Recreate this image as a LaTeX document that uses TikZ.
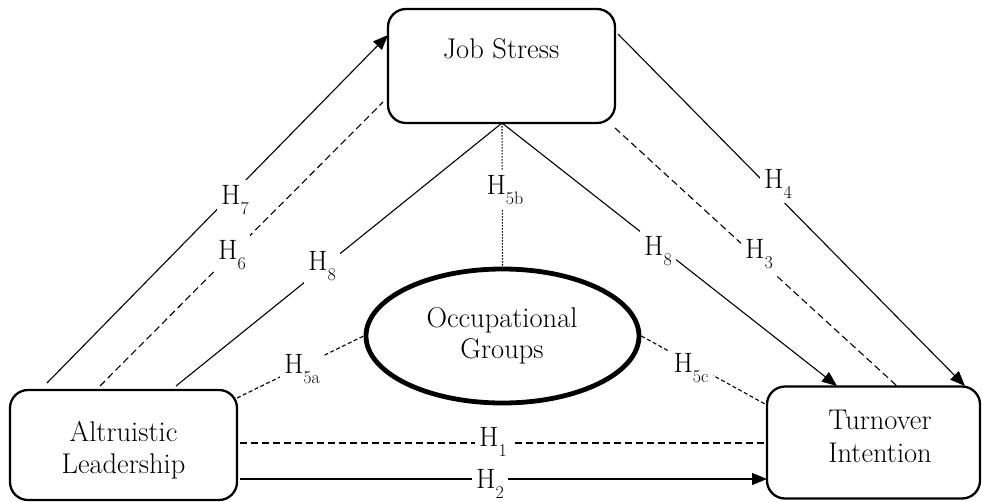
\documentclass[tikz,border=0pt]{standalone}
\usetikzlibrary{arrows.meta,shapes.geometric}
\newcommand{\hyp}[1]{H\raisebox{-0.38em}{\fontsize{18}{18}\selectfont #1}}
\begin{document}
\begin{tikzpicture}[x=1pt,y=-1pt,
  box/.style={draw, line width=2.3pt, rounded corners=18pt, inner sep=0pt},
  oval/.style={draw, ellipse, line width=4.8pt, inner sep=0pt},
  txt/.style={inner sep=0pt, anchor=base, font=\fontsize{28.5}{32}\selectfont},
  lbl/.style={fill=white, inner sep=4.5pt, font=\fontsize{28}{28}\selectfont},
  conn/.style={line width=1.1pt},
  arr/.style={conn, -{Triangle[length=15pt,width=12pt]}},
  dsh/.style={conn, dash pattern=on 7pt off 4pt},
  sdsh/.style={conn, dash pattern=on 4pt off 2.5pt},
  dtd/.style={conn, dash pattern=on 1.5pt off 1.5pt}]
\useasboundingbox (0,0) rectangle (982,501);
% boxes
\node[box, minimum width=227pt, minimum height=114pt] (js) at (501.5,66) {};
\node[box, minimum width=227pt, minimum height=110pt] (al) at (123.5,445) {};
\node[box, minimum width=213pt, minimum height=112pt] (ti) at (873.5,442.5) {};
\node[oval, minimum width=273pt, minimum height=134pt] (og) at (502.5,336) {};
% texts
\node[txt] (jst) at (501,58) {Job Stress};
\node[txt] (alt1) at (123.5,441) {Altruistic};
\node[txt] (alt2) at (123.5,473) {Leadership};
\node[txt] (tit1) at (880,429) {Turnover};
\node[txt] (tit2) at (880,462) {Intention};
\node[txt] (ogt1) at (502,327) {Occupational};
\node[txt] (ogt2) at (502,358) {Groups};
% connector ends
\coordinate (h7s) at (47,383);  \coordinate (h7e) at (388,35);
\coordinate (h6s) at (100,386); \coordinate (h6e) at (383,102);
\coordinate (h8ls) at (176,386);
\coordinate (jsb) at (502,123);
\coordinate (h8re) at (837,386);
\coordinate (h3s) at (615,128); \coordinate (h3e) at (897,386);
\coordinate (h4s) at (618,34);  \coordinate (h4e) at (965,386);
\coordinate (h5as) at (237,398);
\coordinate (h5ce) at (765,404);
\coordinate (h1s) at (240,443); \coordinate (h1e) at (767,443);
\coordinate (h2s) at (240,479); \coordinate (h2e) at (767,479);
% connectors
\draw[arr] (h7s) -- (h7e);
\draw[dsh] (h6s) -- (h6e);
\draw[conn] (h8ls) -- (jsb);
\draw[dtd] (jsb) -- (og.north);
\draw[arr] (jsb) -- (h8re);
\draw[dsh] (h3s) -- (h3e);
\draw[arr] (h4s) -- (h4e);
\draw[sdsh] (h5as) -- (og.west);
\draw[sdsh] (og.east) -- (h5ce);
\draw[dsh] (h1s) -- (h1e);
\draw[arr] (h2s) -- (h2e);
% labels
\node[lbl] (l7) at (235,200) {\hyp{7}};
\node[lbl] (l6) at (232,255) {\hyp{6}};
\node[lbl] (l8a) at (322,266) {\hyp{8}};
\node[lbl] (l5b) at (505,190) {\hyp{5b}};
\node[lbl] (l8b) at (658,251) {\hyp{8}};
\node[lbl] (l3) at (759,254) {\hyp{3}};
\node[lbl] (l4) at (778,184) {\hyp{4}};
\node[lbl] (l5a) at (302,369) {\hyp{5a}};
\node[lbl] (l5c) at (691,368) {\hyp{5c}};
\node[lbl] (l1) at (493,442) {\hyp{1}};
\node[lbl] (l2) at (490,484) {\hyp{2}};
\end{tikzpicture}
\end{document}
